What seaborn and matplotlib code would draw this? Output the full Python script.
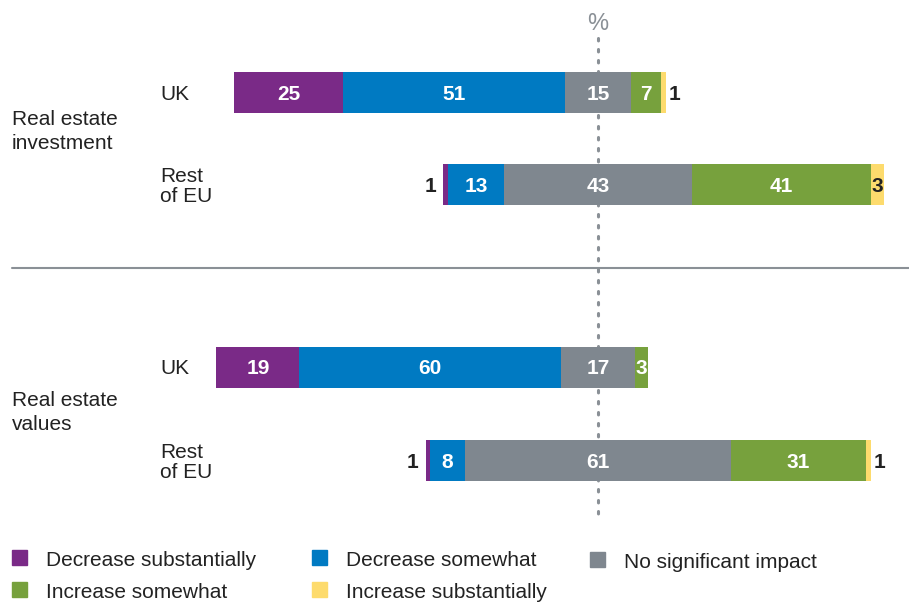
import matplotlib
matplotlib.use("Agg")
import matplotlib.pyplot as plt
import seaborn as sns
import numpy as np
import pandas as pd
from matplotlib.patches import Rectangle

# ---- data ----
groups = ["Real estate\ninvestment", "Real estate\nvalues"]
rows = ["UK", "Rest\nof EU", "UK", "Rest\nof EU"]
categories = ["Decrease substantially", "Decrease somewhat", "No significant impact",
              "Increase somewhat", "Increase substantially"]
decrease_substantially = [25, 1, 19, 1]
decrease_somewhat = [51, 13, 60, 8]
no_impact = [15, 43, 17, 61]
increase_somewhat = [7, 41, 3, 31]
increase_substantially = [1, 3, 0, 1]

colors = ["#7A2A87", "#007AC2", "#7F878F", "#77A13D", "#FDDB6D"]

sns.set_theme(style="white")
plt.rcParams['font.family'] = ['Liberation Sans', 'DejaVu Sans']

df = pd.DataFrame({
    categories[0]: decrease_substantially,
    categories[1]: decrease_somewhat,
    categories[2]: no_impact,
    categories[3]: increase_somewhat,
    categories[4]: increase_substantially,
})

W, H = 909, 604
fig = plt.figure(figsize=(W / 100, H / 100), dpi=100)
ax = fig.add_axes([0, 0, 1, 1])
scale = 4.36  # px per percent
cx = 598
ax.set_xlim(-cx / scale, (W - cx) / scale)
ax.set_ylim(H, 0)
ax.axis("off")

row_y = [92, 184, 367, 460]
bar_h = 41
txt = "#222222"
lab_fs = 15

# dotted center line
ax.plot([0, 0], [38, 516], color="#8A9096", lw=2.2, ls=(0, (0.8, 2.8)),
        dash_capstyle="round", zorder=1)
# separator
ax.plot([(12 - cx) / scale, (W - cx) / scale], [268, 268], color="#8A9096", lw=1.5, zorder=1)
ax.text(0, 21, "%", color="#8A9096", fontsize=17, ha="center", va="center_baseline")

for i, y in enumerate(row_y):
    vals = df.iloc[i].values.astype(float)
    start = -(vals[0] + vals[1] + vals[2] / 2)
    left = start
    for k, v in enumerate(vals):
        if v <= 0:
            continue
        ax.barh(y, v, left=left, height=bar_h, color=colors[k], edgecolor="none",
                linewidth=0, zorder=2)
        mid = left + v / 2
        if v < 2:
            if k == 0:
                ax.text(left - 13 / scale, y, f"{int(v)}", ha="center", va="center_baseline",
                        fontsize=lab_fs, fontweight="bold", color=txt, zorder=3)
            else:
                ax.text(left + v + 9 / scale, y, f"{int(v)}", ha="center", va="center_baseline",
                        fontsize=lab_fs, fontweight="bold", color=txt, zorder=3)
        else:
            col = txt if k == 4 else "white"
            ax.text(mid, y, f"{int(v)}", ha="center", va="center_baseline",
                    fontsize=lab_fs, fontweight="bold", color=col, zorder=3)
        left += v
    ax.text((160 - cx) / scale, y, rows[i], ha="left", va="center_baseline", fontsize=15,
            color=txt, linespacing=1.05)

for g, y in zip(groups, [127, 408]):
    ax.text((12 - cx) / scale, y, g, ha="left", va="center_baseline", fontsize=15,
            color=txt, linespacing=1.35)

# legend (manual)
leg_pos = [(12, 558), (12, 590), (312, 558), (312, 590), (590, 560)]
leg_order = [0, 3, 1, 4, 2]
for (px, py), k in zip(leg_pos, leg_order):
    fig.patches.append(Rectangle((px / W, 1 - (py + 7) / H), 15 / W, 15 / H,
                                 transform=fig.transFigure, color=colors[k]))
    fig.text((px + 34) / W, 1 - py / H, categories[k], ha="left", va="center_baseline",
             fontsize=15, color=txt)

fig.savefig("out.png", dpi=100)
